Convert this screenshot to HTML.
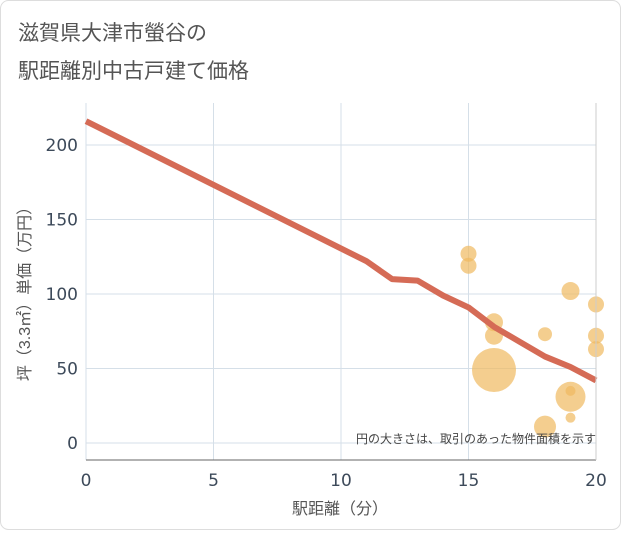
<!DOCTYPE html>
<html><head><meta charset="utf-8"><style>
body{margin:0;background:#fff;}
svg text{font-family:"Liberation Sans","Noto Sans CJK JP",sans-serif;}
svg text.tick{font-family:"DejaVu Sans",sans-serif;}
</style></head><body>
<svg width="621" height="530" xmlns="http://www.w3.org/2000/svg">
<rect x="0.5" y="0.5" width="620" height="529" rx="8" fill="#fff" stroke="#ddd"/>
<text x="18" y="40" font-size="21" fill="#555">滋賀県大津市螢谷の</text>
<text x="18" y="78" font-size="21" fill="#555">駅距離別中古戸建て価格</text>
<g id="grid"></g>
<g id="bubbles"></g>
<g id="line"></g>
<g id="axes"></g>
<text x="596" y="443" font-size="12" fill="#444" text-anchor="end">円の大きさは、取引のあった物件面積を示す</text>
<text x="340" y="514" font-size="16" fill="#555" text-anchor="middle">駅距離（分）</text>
<text transform="translate(30,290) rotate(-90)" font-size="16" fill="#555" text-anchor="middle">坪（3.3㎡）単価（万円）</text>
</svg>
<script>
const xTicks=[0,5,10,15,20];
const yTicks=[0,50,100,150,200];
const lineX=[0,11,12,13,14,15,16,17,18,19,20];
const lineY=[216,122,110,109,99,91,78,68,58,51,42];
const bubX=[15,15,16,16,16,18,18,19,19,19,19,20,20,20];
const bubY=[127,119,81,72,49,73,11,102,31,35,17,93,72,63];
const bubR=[8,8,9,9,22,7,11,9,15,5,5,8,8,8];
const L=86,R=596,T=103,B=460;
const sx=v=>L+v*(R-L)/20;
const sy=v=>443-v*1.49;
const NS="http://www.w3.org/2000/svg";
function mk(t,a,p){const e=document.createElementNS(NS,t);for(const k in a)e.setAttribute(k,a[k]);p.appendChild(e);return e;}
const g=document.getElementById('grid');
xTicks.forEach(v=>{const e=mk('line',{x1:sx(v),x2:sx(v),y1:T,y2:B,stroke:'#d5dfe8'},g);

});
yTicks.forEach(v=>{const e=mk('line',{x1:L,x2:R,y1:sy(v),y2:sy(v),stroke:'#d5dfe8'},g);

});
const a=document.getElementById('axes');
mk('line',{x1:L,x2:R,y1:B,y2:B,stroke:'#666'},a);
mk('line',{x1:R,x2:R,y1:T,y2:B,stroke:'#ccc'},a);
xTicks.forEach(v=>{const t=mk('text',{x:sx(v),y:486,'font-size':17,fill:'#3d4a5a','text-anchor':'middle','class':'tick'},a);t.textContent=v;

});
yTicks.forEach(v=>{const t=mk('text',{x:78,y:sy(v)+6,'font-size':17,fill:'#3d4a5a','text-anchor':'end','class':'tick'},a);t.textContent=v;

});
const bg=document.getElementById('bubbles');
bubX.forEach((x,i)=>{const c=mk('circle',{cx:sx(x),cy:sy(bubY[i]),r:bubR[i],fill:'rgba(240,185,95,0.7)'},bg);

});
const lg=document.getElementById('line');
const p=mk('polyline',{points:lineX.map((x,i)=>sx(x)+','+sy(lineY[i])).join(' '),fill:'none',stroke:'#d56b56','stroke-width':6,'stroke-linejoin':'round'},lg);


</script>
</body></html>
